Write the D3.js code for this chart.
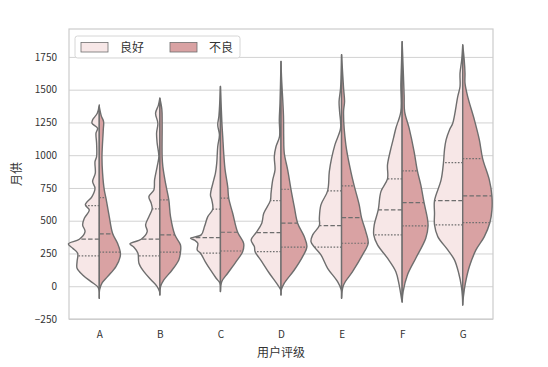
<!DOCTYPE html>
<html lang="zh">
<head>
<meta charset="UTF-8">
<title>月供 violin</title>
<script src="https://d3js.org/d3.v7.min.js"></script>
<style>
  body { margin: 0; background: #fff; }
  svg text { font-family: "Noto Sans CJK SC", "DejaVu Sans", sans-serif; fill: #333; }
</style>
</head>
<body>
<div id="chart"></div>
<script>
var categories = ["A", "B", "C", "D", "E", "F", "G"];
var hues = ["良好", "不良"];
var yTicks = [-250, 0, 250, 500, 750, 1000, 1250, 1500, 1750];

// [月供, density], bottom to top
var goodDensity = [
  [[-92,0],[-28,0.3],[-3,1.7],[35,8.3],[86,16.7],[137,22.3],[188,22.3],[252,21.7],[290,26.7],[323,31],[359,20],[417,14.3],[468,16.7],[519,15],[582,10],[621,14],[684,7.3],[748,4.3],[799,6.7],[863,4],[951,4.3],[989,2.7],[1092,2.7],[1168,3.3],[1206,1.7],[1244,7.3],[1270,6.7],[1320,2],[1384,0]],
  [[-66,0],[-41,0.3],[-3,2.7],[48,8.7],[111,16],[176,21],[252,22],[298,26],[323,30],[359,18.7],[417,12.7],[468,14.3],[531,11],[590,7.7],[634,8.7],[684,11],[735,6],[811,5.3],[913,2.7],[989,1],[1092,2.7],[1168,3.3],[1244,2],[1321,4.3],[1380,1.5],[1435,0]],
  [[-40,0],[23,0.5],[61,4.3],[124,10],[188,15.3],[252,20],[277,23.3],[328,22.7],[352,26],[366,30],[392,19.3],[455,16],[531,12.7],[588,7.7],[659,8.7],[697,10],[811,6.7],[863,5],[939,3.7],[1066,2.7],[1155,1],[1231,2.7],[1300,1.5],[1524,0]],
  [[-66,0],[-28,0.3],[10,3.3],[99,11.7],[188,19.3],[264,26],[302,26.7],[353,30],[409,25],[481,19.3],[557,17.3],[653,10.7],[710,10],[811,8.3],[888,6],[989,6.7],[1066,5],[1142,1.5],[1270,1.7],[1400,1],[1715,0]],
  [[-92,0],[-28,0.3],[35,4],[137,14],[239,20.7],[298,27.3],[340,30.7],[392,29],[463,22.3],[519,22.3],[621,20.7],[728,14],[875,12.3],[977,10],[1079,6.7],[1206,1],[1333,2],[1409,2.5],[1512,1],[1766,0]],
  [[-120,0],[-92,0.7],[10,3],[111,6.3],[214,14.7],[315,24.7],[392,28.5],[468,28],[582,24],[722,21.3],[819,14.7],[926,14.7],[1028,12],[1130,8.7],[1206,6.3],[1333,1.3],[1537,1.3],[1689,0.7],[1867,0]],
  [[-143,0],[-79,0.3],[-3,1.3],[99,4],[201,8.3],[277,15],[379,25],[468,28.3],[557,28.3],[653,28.3],[811,21.7],[944,19.3],[1041,18.3],[1117,16.7],[1193,13.3],[1244,10],[1447,5],[1524,2.7],[1626,2.7],[1728,1],[1842,0]]
];

var badDensity = [
  [[-92,0],[-28,0.3],[23,2.7],[73,8.3],[150,16.7],[226,21],[264,21],[328,18.3],[405,13.3],[531,10],[672,6.7],[735,5],[863,3.3],[989,2.7],[1193,4],[1257,4.3],[1300,2],[1370,0]],
  [[-66,0],[-3,0.7],[48,4],[124,12.3],[201,19],[260,20.7],[315,20.7],[392,15],[531,10.7],[659,9],[786,5.7],[913,3],[989,2.3],[1244,2.3],[1350,2],[1435,0]],
  [[-40,0],[35,1.3],[99,7.3],[188,15.7],[264,22.3],[328,23.3],[412,17.3],[557,12.3],[672,8.3],[760,7.3],[888,4.7],[1015,3.3],[1142,2.3],[1244,1.5],[1524,0]],
  [[-66,0],[-28,0.3],[23,3.3],[124,13.3],[226,21.7],[302,26],[379,23.3],[481,16.7],[608,13.3],[740,10],[888,6.7],[1015,3.3],[1142,2.7],[1300,2.5],[1600,0.5],[1715,0]],
  [[-92,0],[10,2],[111,11],[239,21],[328,26.7],[417,24.3],[524,20],[621,17.7],[766,12.7],[875,9.3],[1079,4.3],[1333,2],[1409,3],[1512,2],[1700,0.5],[1766,0]],
  [[-120,0],[-41,1],[86,5.3],[214,13.7],[366,23.7],[460,26],[519,25.3],[638,22],[773,18.7],[880,15.3],[1028,12],[1206,7],[1333,2.5],[1460,2],[1867,0]],
  [[-143,0],[-79,0.7],[23,2.7],[150,6.7],[277,13.3],[379,21.7],[486,27.3],[582,29.3],[689,29.3],[811,26.7],[974,20],[1117,16.7],[1270,11.7],[1447,5],[1550,2.3],[1626,2.3],[1728,1.5],[1842,0]]
];

// [25%, 50%, 75%]
var goodQuartiles = [[231,359,615],[231,359,590],[252,371,588],[264,409,653],[298,463,728],[392,582,819],[468,653,944]];
var badQuartiles  = [[260,399,676],[260,392,659],[269,412,672],[298,481,740],[328,524,766],[460,638,880],[486,689,974]];

var colors = ["#f7e7e7", "#d9a2a3"];
var edge = "#6e6e6e";

var W = 548, H = 367;
var margin = {top: 29, right: 55, bottom: 48, left: 69};
var w = W - margin.left - margin.right,
    h = H - margin.top - margin.bottom;

var svg = d3.select("#chart").append("svg")
    .attr("width", W)
    .attr("height", H);

var g = svg.append("g")
    .attr("transform", "translate(" + margin.left + "," + margin.top + ")");

var x = d3.scalePoint()
    .domain(categories)
    .range([0, w])
    .padding(0.5);

var y = d3.scaleLinear()
    .domain([-250, 1963])
    .range([h, 0]);

var dens = d3.scaleLinear()
    .domain([0, 31])
    .range([0, x.step() * 0.51]);

// grid
var yaxis = d3.axisLeft(y).tickValues(yTicks).tickSize(-w).tickPadding(12)
    .tickFormat(function(d) { return d < 0 ? "\u2212" + Math.abs(d) : d; });
var ya = g.append("g").attr("class", "axis").call(yaxis);
ya.select(".domain").remove();
ya.selectAll("line").attr("stroke", "#d2d2d2").attr("stroke-width", 1);
ya.selectAll("text").attr("font-size", 10).attr("fill", "#333");

var xaxis = d3.axisBottom(x).tickSize(0).tickPadding(12);
var xa = g.append("g").attr("transform", "translate(0," + h + ")").call(xaxis);
xa.select(".domain").remove();
xa.selectAll("text").attr("font-size", 10).attr("fill", "#333");

g.append("rect")
    .attr("width", w).attr("height", h)
    .attr("fill", "none")
    .attr("stroke", "#cccccc")
    .attr("stroke-width", 1.2);

function widthAt(profile, v) {
  for (var i = 1; i < profile.length; i++) {
    if (profile[i][0] >= v) {
      var a = profile[i - 1], b = profile[i];
      var t = (v - a[0]) / (b[0] - a[0]);
      return a[1] + t * (b[1] - a[1]);
    }
  }
  return 0;
}

function drawHalf(profile, quart, cat, side, color) {
  var cx = x(cat);
  var area = d3.area()
      .curve(d3.curveCatmullRom.alpha(0.5))
      .y(function(d) { return y(d[0]); })
      .x0(cx)
      .x1(function(d) { return cx + side * dens(d[1]); });

  g.append("path")
      .datum(profile)
      .attr("d", area)
      .attr("fill", color)
      .attr("stroke", edge)
      .attr("stroke-width", 1.4)
      .attr("stroke-linejoin", "round");

  quart.forEach(function(q, i) {
    g.append("line")
        .attr("x1", cx)
        .attr("x2", cx + side * dens(widthAt(profile, q)))
        .attr("y1", y(q)).attr("y2", y(q))
        .attr("stroke", edge)
        .attr("stroke-width", 1.2)
        .attr("stroke-dasharray", i == 1 ? "4.5,2.2" : "1.6,1.6");
  });
}

categories.forEach(function(c, i) {
  drawHalf(goodDensity[i], goodQuartiles[i], c, -1, colors[0]);
  drawHalf(badDensity[i], badQuartiles[i], c, 1, colors[1]);
});

// axis labels
svg.append("text")
    .attr("x", margin.left + w / 2).attr("y", 357)
    .attr("text-anchor", "middle")
    .attr("font-size", 12)
    .text("用户评级");

svg.append("text")
    .attr("transform", "translate(21," + (margin.top + h / 2) + ") rotate(-90)")
    .attr("text-anchor", "middle")
    .attr("font-size", 12)
    .text("月供");

// legend
var lg = svg.append("g");
lg.append("rect")
    .attr("x", 75).attr("y", 36).attr("width", 165).attr("height", 22)
    .attr("rx", 2.5)
    .attr("fill", "#fff").attr("fill-opacity", 0.85)
    .attr("stroke", "#d6d6d6");

var legendX = d3.scalePoint().domain(hues).range([81, 170]);
hues.forEach(function(hname, i) {
  lg.append("rect")
      .attr("x", legendX(hname)).attr("y", 42.5)
      .attr("width", 27).attr("height", 9.5)
      .attr("fill", colors[i])
      .attr("stroke", edge).attr("stroke-width", 0.8);
  lg.append("text")
      .attr("x", legendX(hname) + 39).attr("y", 51.5)
      .attr("font-size", 12)
      .text(hname);
});
</script>
</body>
</html>
